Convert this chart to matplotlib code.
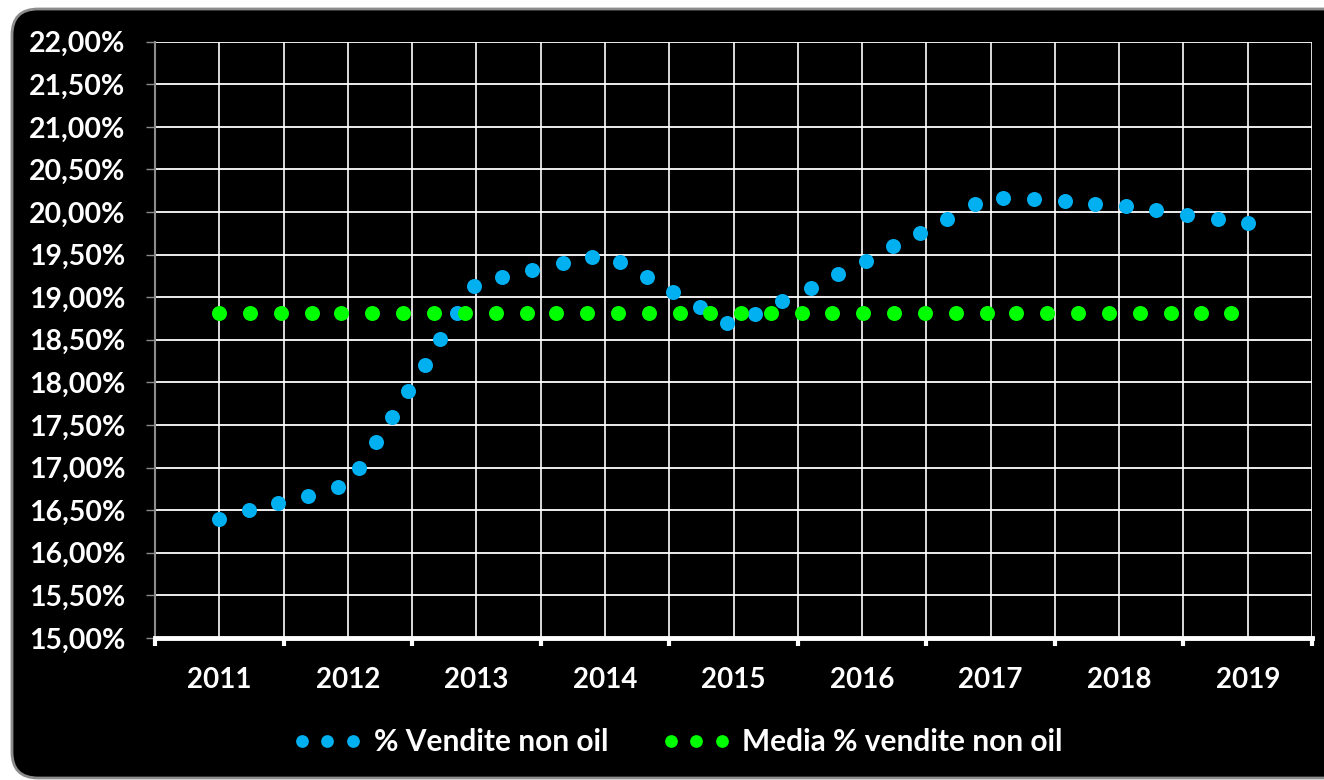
import matplotlib
matplotlib.use("Agg")
import matplotlib.pyplot as plt
from matplotlib.patches import FancyBboxPatch
from matplotlib.transforms import IdentityTransform
from matplotlib.ticker import FixedLocator, FuncFormatter

# ---------------- data ----------------
years = ["2011", "2012", "2013", "2014", "2015", "2016", "2017", "2018", "2019"]

# position along the category axis (0 = 2011, 8 = 2019)
vendite_pos = [0.00, 0.23, 0.46, 0.69, 0.92, 1.09, 1.22, 1.34, 1.47, 1.60,
               1.72, 1.85, 1.98, 2.20, 2.43, 2.67, 2.90, 3.12, 3.33, 3.53,
               3.74, 3.95, 4.17, 4.38, 4.60, 4.81, 5.03, 5.24, 5.45, 5.66,
               5.88, 6.10, 6.34, 6.58, 6.81, 7.05, 7.29, 7.53, 7.77, 8.00]
vendite_pct = [16.40, 16.50, 16.58, 16.67, 16.77, 16.99, 17.30, 17.60, 17.90, 18.21,
               18.51, 18.82, 19.13, 19.24, 19.32, 19.40, 19.47, 19.41, 19.24, 19.06,
               18.88, 18.70, 18.80, 18.96, 19.11, 19.27, 19.43, 19.60, 19.76, 19.92,
               20.09, 20.17, 20.15, 20.13, 20.10, 20.07, 20.02, 19.97, 19.92, 19.87]

media_pos = [0.00, 0.24, 0.48, 0.72, 0.95, 1.19, 1.43, 1.67, 1.91, 2.15,
             2.39, 2.62, 2.86, 3.10, 3.34, 3.58, 3.82, 4.06, 4.29, 4.53,
             4.77, 5.01, 5.25, 5.49, 5.73, 5.97, 6.20, 6.44, 6.68, 6.92,
             7.16, 7.40, 7.64, 7.87]
media_value = 18.82
media_pct = [media_value] * len(media_pos)

label_vendite = "% Vendite non oil"
label_media = "Media % vendite non oil"

# ---------------- style ----------------
FONT = "Lato"
BLUE = "#00B0F0"
GREEN = "#00FF00"

fig = plt.figure(figsize=(13.24, 7.80), dpi=100, facecolor="white")

# rounded black background panel (pixel coordinates)
panel = FancyBboxPatch((12, 2), 1400, 769,
                       boxstyle="round,pad=0,rounding_size=26",
                       transform=IdentityTransform(),
                       facecolor="black", edgecolor="#8c8c8c", linewidth=2,
                       zorder=-10)
fig.patches.append(panel)

ax = fig.add_axes([155 / 1324, 1 - 638 / 780, (1312 - 155) / 1324, (638 - 41.7) / 780])
ax.set_zorder(1)
ax.set_facecolor("black")
ax.set_xlim(-0.5, 8.5)
ax.set_ylim(15, 22)

ax.plot(vendite_pos, vendite_pct, linestyle="none", marker="o", markersize=10.8,
        color=BLUE, markeredgewidth=0, label=label_vendite, zorder=3)
ax.plot(media_pos, media_pct, linestyle="none", marker="o", markersize=10.8,
        color=GREEN, markeredgewidth=0, label=label_media, zorder=4)

# y axis
ax.yaxis.set_major_locator(FixedLocator([15 + 0.5 * i for i in range(15)]))
ax.yaxis.set_major_formatter(FuncFormatter(lambda v, p: f"{v:.2f}".replace(".", ",") + "%"))
ax.tick_params(axis="y", which="major", direction="out", length=6.5, width=1,
               color="#8c8c8c", pad=15, labelsize=20.5, labelcolor="white")

# x axis: boundaries as major ticks, category centres as labelled minor ticks
ax.xaxis.set_major_locator(FixedLocator([i - 0.5 for i in range(len(years) + 1)]))
ax.xaxis.set_major_formatter(FuncFormatter(lambda v, p: ""))
ax.xaxis.set_minor_locator(FixedLocator(list(range(len(years)))))
ax.xaxis.set_minor_formatter(FuncFormatter(lambda v, p: years[int(round(v))]))
ax.tick_params(axis="x", which="major", direction="out", length=6, width=3,
               color="white")
ax.tick_params(axis="x", which="minor", length=0, pad=21, labelsize=20,
               labelcolor="white")

for lab in ax.get_yticklabels() + ax.get_xticklabels(minor=True):
    lab.set_fontfamily(FONT)
    lab.set_fontweight("bold")

# grid
ax.set_axisbelow(True)
ax.grid(True, axis="y", which="major", color="white", linewidth=1.3)
ax.grid(True, axis="x", which="both", color="white", linewidth=1.2)

# spines
ax.spines["top"].set_visible(False)
ax.spines["right"].set_visible(False)
ax.spines["left"].set_color("#8c8c8c")
ax.spines["left"].set_linewidth(1.5)
ax.spines["bottom"].set_color("white")
ax.spines["bottom"].set_linewidth(3.5)

# legend
leg = fig.legend(loc="center", bbox_to_anchor=(678 / 1324, 1 - 742 / 780),
                 ncol=2, frameon=False, numpoints=3, markerscale=0.85,
                 handlelength=2.3, handletextpad=0.4, columnspacing=1.8,
                 prop={"family": FONT, "weight": "bold", "size": 21.5})
for t in leg.get_texts():
    t.set_color("white")

fig.savefig("out.png", dpi=100, facecolor="white")
